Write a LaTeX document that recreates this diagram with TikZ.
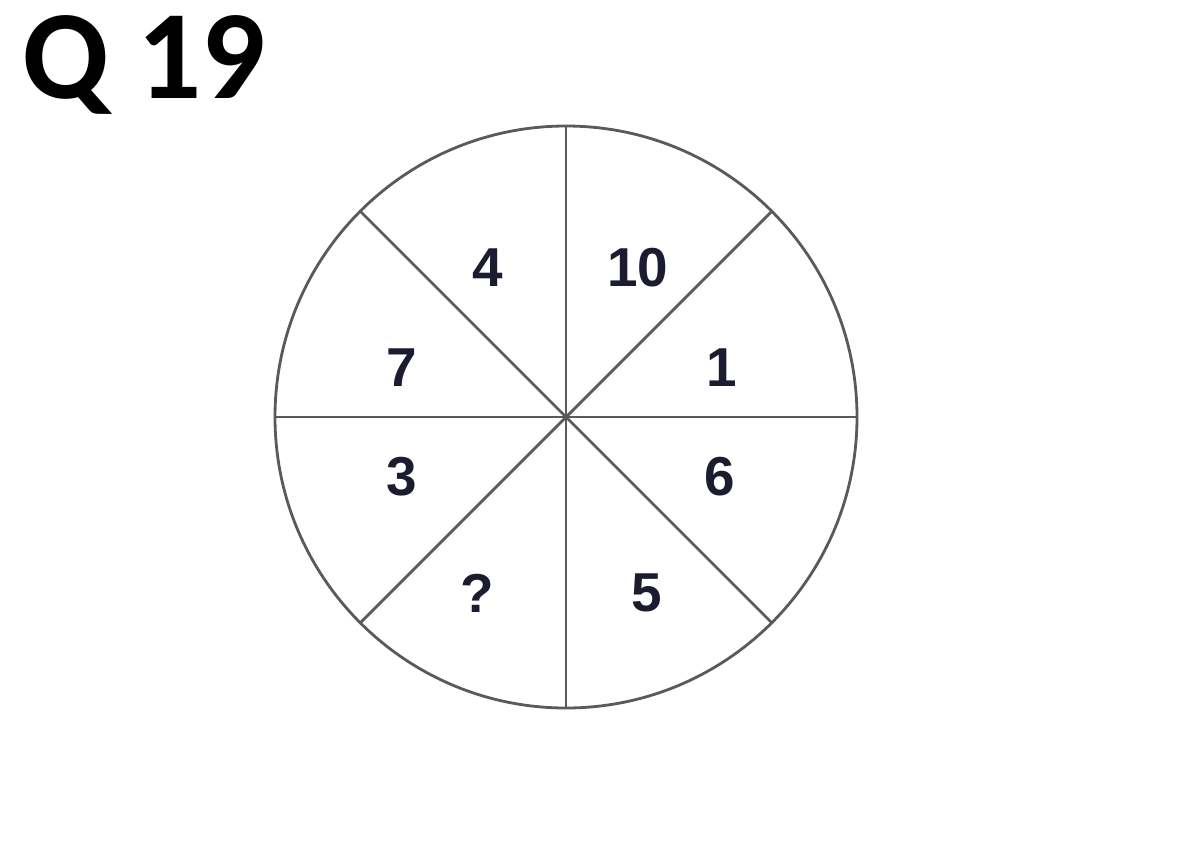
\documentclass[tikz,border=0pt]{standalone}
\usepackage{fontspec}
\setmainfont{Liberation Sans}
\newfontfamily\titlefont{Carlito}
\usepackage{xcolor}
\usetikzlibrary{positioning}
\definecolor{rimgray}{HTML}{5A5A5A}
\definecolor{numnavy}{HTML}{1C1C30}

\begin{document}
\begin{tikzpicture}[
    x=0.025cm, y=-0.025cm,
    rim/.style={draw=rimgray, line width=2pt},
    num/.style={text=numnavy, font=\fontsize{39}{41}\selectfont\bfseries, inner sep=0pt}
]
\useasboundingbox (0,0) rectangle (1184,864);

\coordinate (c) at (566,417);
\draw[rim] (c) circle[radius=291];

% spokes
\foreach \ang in {0,45,...,315}
    \draw[rim] (c) -- ++(\ang:291);

% segment numbers
\node[num] (n4) at (488,268) {4};
\node[num] (n10) at (638,268) {10};
\node[num] (n7) at (402,368) {7};
\node[num] (n1) at (722,368) {1};
\node[num] (n3) at (402,477) {3};
\node[num] (n6) at (720,477) {6};
\node[num] (nq) at (477,593) {?};
\node[num] (n5) at (647,593) {5};

\node[font=\titlefont\fontsize{90}{96}\selectfont\bfseries, anchor=west, inner sep=0pt] (title) at (22,65) {Q 19};
\end{tikzpicture}
\end{document}
